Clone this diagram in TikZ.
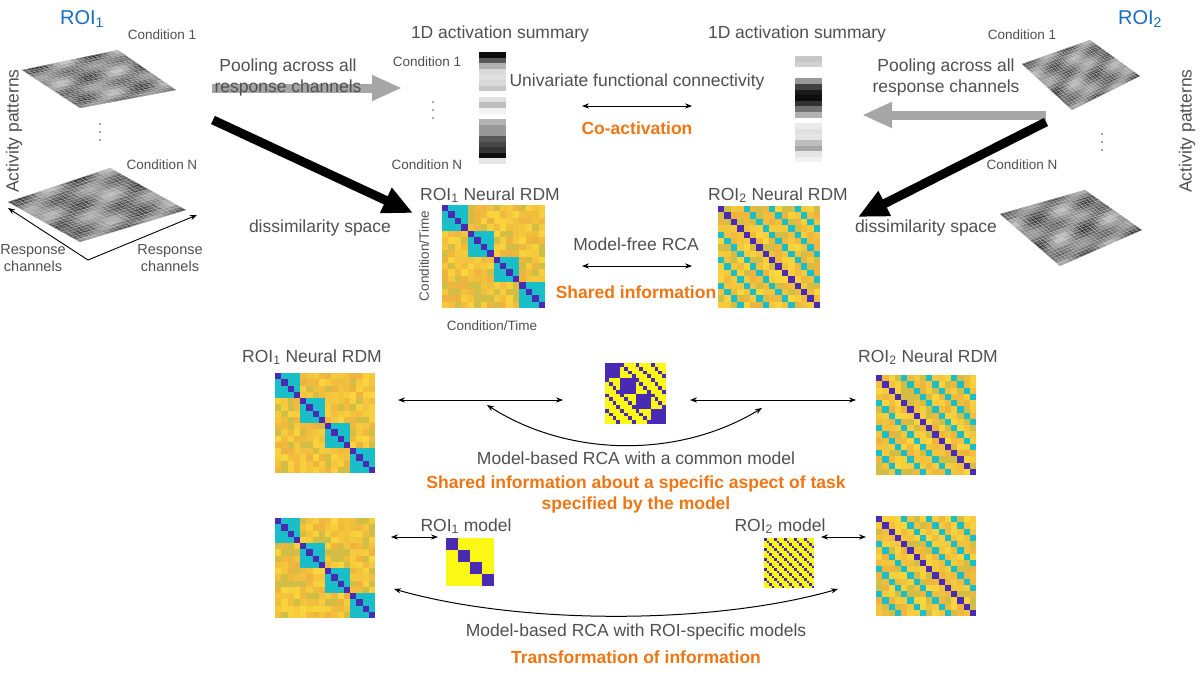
\documentclass[tikz,border=0pt]{standalone}
\usepackage{fontspec}
\setmainfont{Liberation Sans}
\usetikzlibrary{arrows.meta,calc}
\definecolor{txt}{RGB}{80,80,80}
\definecolor{orng}{RGB}{238,118,20}
\definecolor{blu}{RGB}{25,110,190}
\definecolor{rY}{RGB}{250,215,60}
\definecolor{rO}{RGB}{238,178,62}
\definecolor{rG}{RGB}{198,196,72}
\definecolor{cy}{RGB}{25,190,200}
\definecolor{pu}{RGB}{72,42,180}
\definecolor{my}{RGB}{250,248,20}
\newcommand\drawmat[5]{% x y size n formula
 \pgfmathsetmacro\cellsz{#3/#4}
 \pgfmathtruncatemacro\nn{#4-1}
 \foreach \i in {0,...,\nn}{\foreach \j in {0,...,\nn}{
  \pgfmathtruncatemacro\mt{#5}
  \pgfmathtruncatemacro\mr{random(0,100)}
  \pgfmathtruncatemacro\mg{random(0,100)}
  \ifcase\mt
   \def\cc{rY!\mr!rO}\ifnum\mg<22 \def\cc{rG!70!rO}\fi
  \or \def\cc{cy}\or \def\cc{pu}\or \def\cc{pu}\or \def\cc{my}\fi
  \fill[\cc] (#1+\j*\cellsz,#2+\i*\cellsz) rectangle ++(\cellsz+0.3,\cellsz+0.3);
 }}}
\newcommand\fA{ifthenelse(\i==\j,2,ifthenelse(floor(\i/4)==floor(\j/4),1,0))}
\newcommand\fB{ifthenelse(\i==\j,2,ifthenelse(mod(abs(\i-\j),4)==0,1,0))}
\newcommand\fC{ifthenelse(or(floor(\i/4)==floor(\j/4),mod(abs(\i-\j),4)==0),3,4)}
\newcommand\fD{ifthenelse(floor(\i/4)==floor(\j/4),3,4)}
\newcommand\fE{ifthenelse(mod(abs(\i-\j),4)==0,3,4)}
\newcommand\actbar[3]{% x y list
 \foreach \v [count=\k from 0] in {#3}{\fill[black!\v] (#1,#2+\k*5.6) rectangle ++(27,5.9);}}
\newcommand\surf[5]{% A B C D seed
 \begin{scope}
 \clip (#1)--(#2)--(#3)--(#4)--cycle;
 \fill[gray!55] (#1)--(#2)--(#3)--(#4)--cycle;
 \foreach \a in {0,...,15}{\foreach \b in {0,...,15}{
   \pgfmathtruncatemacro\mr{52+22*sin(\a*37+#5*30)*cos(\b*29+#5*17)+10*sin((\a+2*\b)*41+#5*11)}
   \fill[black!\mr] ($($(#1)!\a/16!(#2)$)!\b/16!($(#4)!\a/16!(#3)$)$) --
     ($($(#1)!\a/16+1/16!(#2)$)!\b/16!($(#4)!\a/16+1/16!(#3)$)$) --
     ($($(#1)!\a/16+1/16!(#2)$)!\b/16+1/16!($(#4)!\a/16+1/16!(#3)$)$) --
     ($($(#1)!\a/16!(#2)$)!\b/16+1/16!($(#4)!\a/16!(#3)$)$) -- cycle;}}
 \foreach \a in {0,...,24}{
   \draw[gray!45,line width=0.25pt] ($(#1)!\a/24!(#2)$)--($(#4)!\a/24!(#3)$);
   \draw[gray!45,line width=0.25pt] ($(#1)!\a/24!(#4)$)--($(#2)!\a/24!(#3)$);}
 \end{scope}}
\tikzset{
 lbl/.style={text=txt,font=\fontsize{17.5}{21}\selectfont,align=center},
 sml/.style={text=txt,font=\fontsize{13.5}{16}\selectfont},
 org/.style={text=orng,font=\fontsize{17.5}{21}\selectfont\bfseries,align=center},
 roi/.style={text=blu,font=\fontsize{20}{22}\selectfont},
 dot/.style={circle,fill=txt,inner sep=0pt,minimum size=1.8pt},
 pool/.style={line width=9pt,gray!70!white,-{Triangle[length=30pt,width=24pt]}},
 blk/.style={line width=9pt,black,-{Triangle[length=30pt,width=26pt]}},
 dbl/.style={line width=1pt,black,{Stealth[length=7pt]}-{Stealth[length=7pt]}},
}
\begin{document}
\begin{tikzpicture}[x=1pt,y=-1pt]
\useasboundingbox (0,0) rectangle (1200,675);
\fill[white] (0,0) rectangle (1200,675);
% surfaces
\coordinate (a1) at (22,70);\coordinate (a2) at (118,50);\coordinate (a3) at (176,90);\coordinate (a4) at (80,108);
\surf{a1}{a2}{a3}{a4}{1}
\coordinate (b1) at (8,202);\coordinate (b2) at (110,168);\coordinate (b3) at (186,210);\coordinate (b4) at (80,242);
\surf{b1}{b2}{b3}{b4}{2}
\coordinate (c1) at (1022,64);\coordinate (c2) at (1090,40);\coordinate (c3) at (1140,76);\coordinate (c4) at (1072,110);
\surf{c1}{c2}{c3}{c4}{3}
\coordinate (d1) at (1000,214);\coordinate (d2) at (1085,190);\coordinate (d3) at (1142,230);\coordinate (d4) at (1060,266);
\surf{d1}{d2}{d3}{d4}{4}
\foreach \y [count=\n] in {124,132,140}{\node[dot] (dl\n) at (100,\y) {};}
\foreach \y [count=\n] in {134,142,150}{\node[dot] (dr\n) at (1102,\y) {};}
% axes
\coordinate (o) at (88,260);\coordinate (ax1) at (8,208);\coordinate (ax2) at (197,215);
\draw[line width=0.9pt,-{Stealth[length=7pt]}] (o)--(ax1);
\draw[line width=0.9pt,-{Stealth[length=7pt]}] (o)--(ax2);
\node[lbl,font=\fontsize{14.5}{17}\selectfont] (rc1) at (33,258) {Response\\channels};
\node[lbl,font=\fontsize{14.5}{17}\selectfont] (rc2) at (170,258) {Response\\channels};
\node[lbl,rotate=90] (ap1) at (14,131) {Activity patterns};
\node[lbl,rotate=90] (ap2) at (1187,131) {Activity patterns};
\node[roi] (roi1) at (82,19) {ROI\textsubscript{1}};
\node[roi] (roi2) at (1140,19) {ROI\textsubscript{2}};
\node[sml] (c1l) at (162,35) {Condition 1};
\node[sml] (cnl) at (162,165) {Condition N};
\node[sml] (c1r) at (1022,35) {Condition 1};
\node[sml] (cnr) at (1022,165) {Condition N};
% pooling
\coordinate (p1s) at (212,88);\coordinate (p1e) at (402,88);
\draw[pool] (p1s)--(p1e);
\coordinate (p2s) at (1046,115);\coordinate (p2e) at (862,115);
\draw[pool] (p2s)--(p2e);
\node[lbl] (pl1) at (288,77) {Pooling across all\\response channels};
\node[lbl] (pl2) at (946,77) {Pooling across all\\response channels};
\coordinate (k1s) at (213,120);\coordinate (k1e) at (413,213);
\draw[blk] (k1s)--(k1e);
\coordinate (k2s) at (1046,122);\coordinate (k2e) at (858,217);
\draw[blk] (k2s)--(k2e);
\node[lbl] (ds1) at (320,228) {dissimilarity space};
\node[lbl] (ds2) at (926,228) {dissimilarity space};
% 1D bars
\node[lbl] (s1) at (500,34) {1D activation summary};
\node[lbl] (s2) at (797,34) {1D activation summary};
\actbar{479}{52}{95,65,30,15,12,15,22,0,12,25,5,0,30,40,40,65,72,80,95,10}
\actbar{795}{56}{22,18,0,0,40,75,90,95,80,55,30,0,8,12,10,25,35,10,5,0}
\node[sml] (bc1) at (427,62) {Condition 1};
\node[sml] (bcn) at (427,165) {Condition N};
\foreach \y [count=\n] in {102,110,118}{\node[dot] (bd\n) at (433,\y) {};}
\coordinate (u1) at (582,106);\coordinate (u2) at (692,106);
\draw[dbl] (u1)--(u2);
\node[lbl] (uf) at (637,82) {Univariate functional connectivity};
\node[org] (co) at (637,128) {Co-activation};
% middle RDMs
\pgfmathsetseed{5}
\drawmat{442}{205}{103}{16}{\fA}
\drawmat{718}{206}{102}{16}{\fB}
\node[lbl] (r1) at (490,195) {ROI\textsubscript{1} Neural RDM};
\node[lbl] (r2) at (778,195) {ROI\textsubscript{2} Neural RDM};
\node[sml,rotate=90] (ct1) at (424,256) {Condition/Time};
\node[sml] (ct2) at (492,326) {Condition/Time};
\coordinate (m1) at (582,266);\coordinate (m2) at (692,266);
\draw[dbl] (m1)--(m2);
\node[lbl] (mf) at (636,244) {Model-free RCA};
\node[org] (sh) at (636,292) {Shared information};
% common model row
\drawmat{275}{373}{100}{16}{\fA}
\drawmat{876}{375}{100}{16}{\fB}
\drawmat{605}{363}{61}{16}{\fC}
\node[lbl] (r3) at (312,357) {ROI\textsubscript{1} Neural RDM};
\node[lbl] (r4) at (928,357) {ROI\textsubscript{2} Neural RDM};
\coordinate (e1) at (398,400);\coordinate (e2) at (563,400);
\coordinate (e3) at (690,400);\coordinate (e4) at (856,400);
\draw[dbl] (e1)--(e2);\draw[dbl] (e3)--(e4);
\coordinate (f1) at (487,405);\coordinate (f2) at (762,408);
\draw[dbl] (f1) .. controls (570,458) and (680,458) .. (f2);
\node[lbl] (mb) at (636,458) {Model-based RCA with a common model};
\node[org] (shm) at (636,494) {Shared information about a specific aspect of task\\specified by the model};
% ROI-specific row
\drawmat{275}{518}{100}{16}{\fA}
\drawmat{876}{516}{100}{16}{\fB}
\drawmat{446}{538}{48}{16}{\fD}
\drawmat{764}{538}{50}{20}{\fE}
\node[lbl] (m1l) at (466,526) {ROI\textsubscript{1} model};
\node[lbl] (m2l) at (780,526) {ROI\textsubscript{2} model};
\coordinate (g1) at (391,537);\coordinate (g2) at (438,537);
\coordinate (g3) at (821,537);\coordinate (g4) at (866,537);
\draw[dbl] (g1)--(g2);\draw[dbl] (g3)--(g4);
\coordinate (h1) at (394,589);\coordinate (h2) at (838,589);
\draw[dbl] (h1) .. controls (520,625) and (712,625) .. (h2);
\node[lbl] (mr) at (636,632) {Model-based RCA with ROI-specific models};
\node[org] (tr) at (636,657) {Transformation of information};
\end{tikzpicture}
\end{document}
